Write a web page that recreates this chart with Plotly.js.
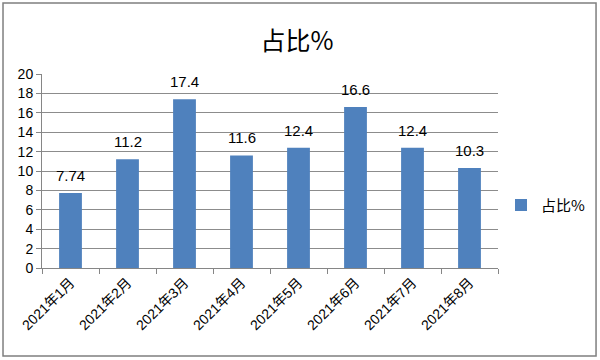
<!DOCTYPE html>
<html><head><meta charset="utf-8">
<script src="https://cdn.plot.ly/plotly-3.0.1.min.js"></script>
<style>html,body{margin:0;padding:0;background:#fff}#c{width:600px;height:360px}</style>
</head><body><div id="c"></div>
<script>
const categories = ["2021年1月","2021年2月","2021年3月","2021年4月","2021年5月","2021年6月","2021年7月","2021年8月"];
const values = [7.74, 11.2, 17.4, 11.6, 12.4, 16.6, 12.4, 10.3];
const valueLabels = ["7.74","11.2","17.4","11.6","12.4","16.6","12.4","10.3"];
const seriesName = "占比%";
const yTicks = [0,2,4,6,8,10,12,14,16,18,20];

const F = '"Liberation Sans", "Noto Sans CJK SC", sans-serif';
const trace = {
  type: 'bar', x: categories, y: values, name: seriesName,
  marker: {color: '#4F81BD', line: {width: 0}},
  width: 0.4, showlegend: true, hoverinfo: 'none'
};
const annotations = categories.map((c, i) => ({
  x: c, y: values[i], xref: 'x', yref: 'y', text: valueLabels[i],
  showarrow: false, yanchor: 'bottom', yshift: 7,
  font: {family: F, size: 15, color: '#000'}
}));
const layout = {
  width: 600, height: 360,
  margin: {l: 42, r: 102, t: 74, b: 92, autoexpand: false},
  paper_bgcolor: '#fff', plot_bgcolor: '#fff',
  font: {family: F, size: 14, color: '#000'},
  title: {text: '占比%', x: 0.495, xanchor: 'center', y: 0.885, yanchor: 'middle',
          font: {family: '"Noto Sans CJK SC", sans-serif', size: 25, color: '#000'}},
  xaxis: {type: 'category', tickangle: -45, ticks: 'outside', tickson: 'boundaries',
          ticklen: 5, tickcolor: '#868686', showline: true, linecolor: '#868686',
          showgrid: false, tickfont: {family: F, size: 14}, automargin: false},
  yaxis: {range: [0, 20], tickvals: yTicks, ticktext: yTicks.map(String), ticks: 'outside',
          ticklen: 5, tickcolor: '#868686', showline: true, linecolor: '#868686',
          showgrid: true, gridcolor: '#8c8c8c', gridwidth: 1, zeroline: false,
          tickfont: {family: F, size: 14}, automargin: false},
  legend: {xref: 'container', yref: 'container', x: 0.835, y: 0.43, xanchor: 'left', yanchor: 'middle',
           font: {family: '"Noto Sans CJK SC", sans-serif', size: 15}, itemwidth: 30},
  bargap: 0.6,
  annotations: annotations,
  shapes: [{type: 'rect', xref: 'paper', yref: 'paper', x0: -0.0855, x1: 1.215, y0: -0.4536, y1: 1.366,
            line: {color: '#7f7f7f', width: 1.5}}]
};
Plotly.newPlot('c', [trace], layout, {displayModeBar: false});
</script></body></html>
